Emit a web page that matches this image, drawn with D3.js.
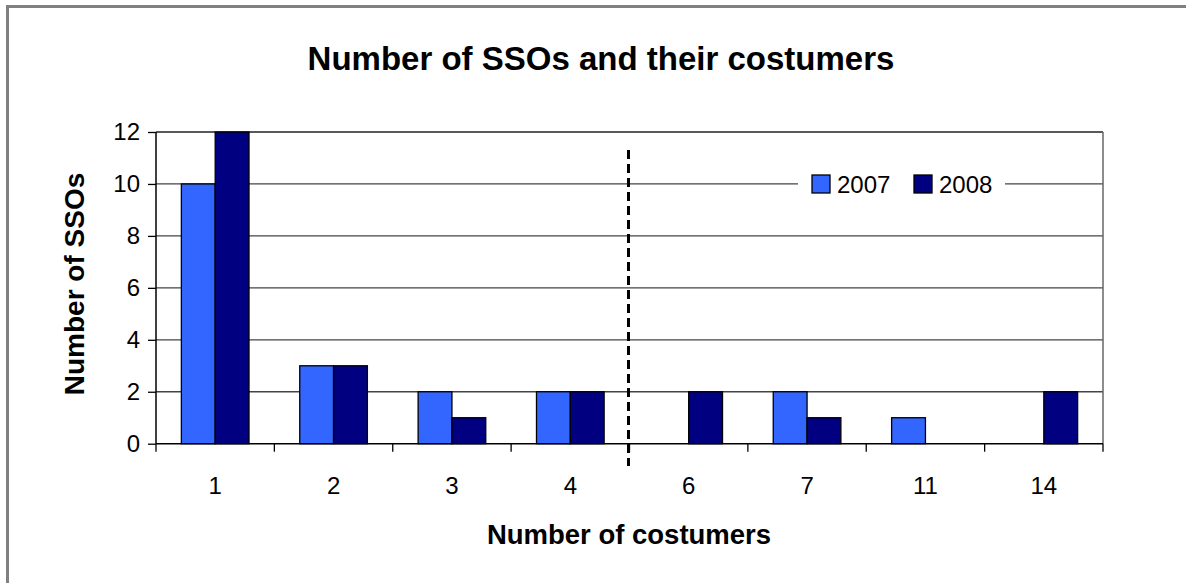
<!DOCTYPE html>
<html>
<head>
<meta charset="utf-8">
<script src="https://cdn.jsdelivr.net/npm/d3@7"></script>
<style>
  html, body { margin: 0; padding: 0; background: #fff; }
  svg { display: block; font-family: "Liberation Sans", Arial, sans-serif; }
</style>
</head>
<body>
<svg id="chart" width="1186" height="583"></svg>
<script>
// Number of SSOs grouped by their number of costumers
const categories = ["1", "2", "3", "4", "6", "7", "11", "14"];
const seriesNames = ["2007", "2008"];
const values2007 = [10, 3, 2, 2, 0, 2, 1, 0];
const values2008 = [12, 3, 1, 2, 2, 1, 0, 2];
const yTicks = [0, 2, 4, 6, 8, 10, 12];
const colors = ["#3366FF", "#000080"];
const splitAfter = "4"; // dashed separator drawn after this category

const svg = d3.select("#chart");
const W = 1186, H = 583;
const plot = { left: 156, right: 1103, top: 132, bottom: 443.7 };

// outer frame (only the top and left edges fall inside the page)
svg.append("rect")
  .attr("x", 7.5).attr("y", 6.5)
  .attr("width", W + 20).attr("height", H + 20)
  .attr("fill", "#fff").attr("stroke", "#808080").attr("stroke-width", 3);

const x0 = d3.scaleBand().domain(categories).range([plot.left, plot.right]).paddingInner(0).paddingOuter(0);
const groupFrac = 2 / 3.5; // gap width 150%
const x1 = d3.scaleBand().domain(seriesNames)
  .range([0, x0.bandwidth() * groupFrac]);
const groupOffset = (x0.bandwidth() - x0.bandwidth() * groupFrac) / 2;
const y = d3.scaleLinear().domain([0, 12]).range([plot.bottom, plot.top]);

// gridlines
svg.append("g").selectAll("line").data(yTicks.filter(d => d > 0 && d < 12)).join("line")
  .attr("x1", plot.left).attr("x2", plot.right)
  .attr("y1", d => y(d)).attr("y2", d => y(d))
  .attr("stroke", "#444").attr("stroke-width", 1.3);

// plot area border
svg.append("line").attr("x1", plot.left).attr("x2", plot.right)
  .attr("y1", plot.top).attr("y2", plot.top).attr("stroke", "#222").attr("stroke-width", 1.5);
svg.append("line").attr("x1", plot.right).attr("x2", plot.right)
  .attr("y1", plot.top).attr("y2", plot.bottom).attr("stroke", "#666").attr("stroke-width", 1.5);

// bars
const rows = categories.map((c, i) => ({ cat: c, vals: [values2007[i], values2008[i]] }));
const groups = svg.append("g").selectAll("g").data(rows).join("g")
  .attr("transform", d => `translate(${x0(d.cat) + groupOffset},0)`);
groups.selectAll("rect")
  .data(d => d.vals.map((v, k) => ({ name: seriesNames[k], v, k })).filter(e => e.v > 0))
  .join("rect")
  .attr("x", e => x1(e.name))
  .attr("width", x1.bandwidth())
  .attr("y", e => y(e.v))
  .attr("height", e => y(0) - y(e.v))
  .attr("fill", e => colors[e.k])
  .attr("stroke", "#000").attr("stroke-width", 1.3);

// y axis
const yAxis = d3.axisLeft(y).tickValues(yTicks).tickSize(8).tickPadding(8);
const gy = svg.append("g").attr("transform", `translate(${plot.left},0)`).call(yAxis);
gy.select(".domain").attr("stroke", "#000").attr("stroke-width", 1.5).attr("d", `M0,${plot.top}V${plot.bottom}`);
gy.selectAll(".tick line").attr("stroke", "#000").attr("stroke-width", 1.3);
gy.selectAll(".tick text").attr("font-size", 24).attr("fill", "#000")
  .attr("font-family", "Liberation Sans, Arial, sans-serif");

// x axis: tick marks at category boundaries, labels centred in each band
const gx = svg.append("g");
gx.append("line").attr("x1", plot.left).attr("x2", plot.right)
  .attr("y1", plot.bottom).attr("y2", plot.bottom).attr("stroke", "#000").attr("stroke-width", 1.5);
const boundaries = categories.map(c => x0(c)).concat([plot.right]);
gx.selectAll("line.tk").data(boundaries).join("line").attr("class", "tk")
  .attr("x1", d => d).attr("x2", d => d)
  .attr("y1", plot.bottom).attr("y2", plot.bottom + 8)
  .attr("stroke", "#000").attr("stroke-width", 1.3);
gx.selectAll("text").data(categories).join("text")
  .attr("x", d => x0(d) + x0.bandwidth() / 2)
  .attr("y", 494)
  .attr("text-anchor", "middle")
  .attr("font-size", 24)
  .text(d => d);

// dashed separator
const sepX = x0(splitAfter) + x0.bandwidth() - 1;
svg.append("line").attr("x1", sepX).attr("x2", sepX)
  .attr("y1", 150).attr("y2", 466)
  .attr("stroke", "#000").attr("stroke-width", 3).attr("stroke-dasharray", "9,5");

// legend
const lg = svg.append("g");
lg.append("rect").attr("x", 798).attr("y", 172).attr("width", 207).attr("height", 24).attr("fill", "#fff");
const legendX = [812, 914];
seriesNames.forEach((n, k) => {
  lg.append("rect").attr("x", legendX[k]).attr("y", 175).attr("width", 18).attr("height", 18)
    .attr("fill", colors[k]).attr("stroke", "#000").attr("stroke-width", 1.3);
  lg.append("text").attr("x", legendX[k] + 25).attr("y", 193)
    .attr("font-size", 24).text(n);
});

// titles
svg.append("text").attr("x", 601).attr("y", 70).attr("text-anchor", "middle")
  .attr("font-size", 33).attr("font-weight", "bold").text("Number of SSOs and their costumers");
svg.append("text").attr("x", 629).attr("y", 544).attr("text-anchor", "middle")
  .attr("font-size", 27.5).attr("font-weight", "bold").text("Number of costumers");
svg.append("text").attr("transform", "translate(84,284) rotate(-90)").attr("text-anchor", "middle")
  .attr("font-size", 28).attr("font-weight", "bold").text("Number of SSOs");
</script>
</body>
</html>
